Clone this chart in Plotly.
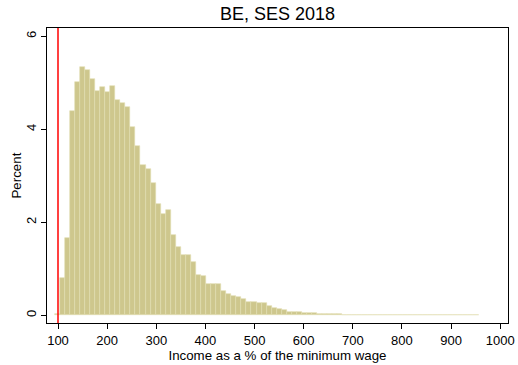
import plotly.graph_objects as go

# Histogram of income relative to the minimum wage (percent of workers per bin)
bin_start = 93.3
bin_width = 10.27
percent = [
    0.03, 0.80, 1.66, 4.40, 5.01, 5.34, 5.28, 5.09, 4.83, 4.91,
    4.81, 4.94, 4.64, 4.57, 4.48, 4.05, 3.64, 3.24, 3.15, 2.84,
    2.40, 2.18, 2.26, 1.73, 1.47, 1.30, 1.29, 1.15, 0.86, 0.84,
    0.67, 0.67, 0.67, 0.52, 0.46, 0.42, 0.40, 0.34, 0.29, 0.28,
    0.27, 0.26, 0.21, 0.15, 0.13, 0.11, 0.08, 0.07, 0.06, 0.05,
    0.04, 0.04, 0.03, 0.03, 0.03, 0.025, 0.02, 0.015, 0.015, 0.015,
    0.015, 0.015, 0.015, 0.015, 0.015, 0.015, 0.015, 0.015, 0.015, 0.015,
    0.015, 0.015, 0.015, 0.015, 0.015, 0.0, 0.0, 0.012, 0.0, 0.012,
    0.012, 0.012, 0.012, 0.012,
]
x_ticks = [100, 200, 300, 400, 500, 600, 700, 800, 900, 1000]
y_ticks = [0, 2, 4, 6]
min_wage_ref = 100

centers = [bin_start + bin_width * (i + 0.5) for i in range(len(percent))]

FONT = "Liberation Sans, Arial, Helvetica, sans-serif"

fig = go.Figure()
fig.add_trace(go.Bar(
    x=centers,
    y=percent,
    width=bin_width,
    marker=dict(color="#CEC78D", line=dict(color="#E2DDB2", width=0.6)),
    showlegend=False,
))

# Reference line at the minimum wage
fig.add_shape(
    type="line", xref="x", yref="paper",
    x0=min_wage_ref, x1=min_wage_ref, y0=0, y1=1,
    line=dict(color="#FF0000", width=1.5), layer="above",
)

# Vertical axis title, set close to the tick labels
fig.add_annotation(
    text="Percent", xref="paper", yref="paper", x=0, y=0.5,
    xanchor="center", yanchor="middle", xshift=-31, textangle=-90,
    showarrow=False, font=dict(family=FONT, size=13.3, color="black"),
)

fig.update_layout(
    width=518, height=365,
    margin=dict(l=47, r=10, t=28, b=42),
    paper_bgcolor="white", plot_bgcolor="white",
    bargap=0,
    font=dict(family=FONT, color="black", size=13),
    title=dict(
        text="BE, SES 2018", x=0.5, xref="paper", xanchor="center",
        y=1.0, yref="container", yanchor="top", pad=dict(t=7),
        font=dict(family=FONT, size=18, color="black"),
    ),
)

fig.update_xaxes(
    range=[77.6, 1016], automargin=False,
    tickmode="array", tickvals=x_ticks,
    ticks="outside", ticklen=5, tickwidth=1, tickcolor="black",
    showline=True, linecolor="black", linewidth=1.3, mirror=True,
    showgrid=False, zeroline=False,
    tickfont=dict(family=FONT, size=13, color="black"),
    title=dict(text="Income as a % of the minimum wage",
               font=dict(family=FONT, size=13.3, color="black"), standoff=1),
)
fig.update_yaxes(
    range=[-0.166, 6.18], automargin=False,
    tickmode="array", tickvals=y_ticks,
    ticks="outside", ticklen=5, tickwidth=1, tickcolor="black",
    tickangle=-90,
    showline=True, linecolor="black", linewidth=1.3, mirror=True,
    showgrid=False, zeroline=False,
    tickfont=dict(family=FONT, size=13, color="black"),
)

fig.write_html("out.html")
